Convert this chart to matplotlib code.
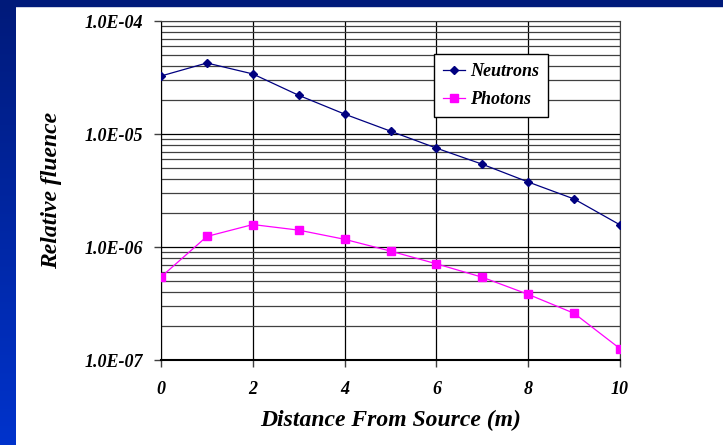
import numpy as np
import matplotlib.pyplot as plt
from matplotlib.ticker import FixedLocator, FuncFormatter, NullFormatter
from matplotlib.colors import LinearSegmentedColormap

# Данные: расстояние от источника и относительный флюенс
distance = [0, 1, 2, 3, 4, 5, 6, 7, 8, 9, 10]
neutrons = [3.26e-5, 4.25e-5, 3.4e-5, 2.2e-5, 1.5e-5, 1.06e-5,
            7.5e-6, 5.4e-6, 3.76e-6, 2.66e-6, 1.57e-6]
photons = [5.43e-7, 1.24e-6, 1.58e-6, 1.41e-6, 1.17e-6, 9.2e-7,
           7.1e-7, 5.4e-7, 3.81e-7, 2.59e-7, 1.26e-7]
x_ticks = [0, 2, 4, 6, 8, 10]
y_ticks = [1e-7, 1e-6, 1e-5, 1e-4]

plt.rcParams['font.family'] = ['Liberation Serif', 'DejaVu Serif']
font = dict(weight='bold', style='italic')

fig = plt.figure(figsize=(7.23, 4.45), dpi=100)
fig.patch.set_facecolor('white')

# Синяя рамка слайда (градиент слева и полоса сверху)
bg = fig.add_axes([0, 0, 1, 1], zorder=-10)
bg.set_xlim(0, 723)
bg.set_ylim(445, 0)
bg.axis('off')
grad = np.linspace(0, 1, 256).reshape(-1, 1)
cmap = LinearSegmentedColormap.from_list('slide', ['#001a7a', '#0033cc'])
bg.imshow(grad, cmap=cmap, extent=[0, 16, 445, 0], aspect='auto')
bg.add_patch(plt.Rectangle((0, 0), 723, 6, color='#001a7a'))

ax = fig.add_axes([161 / 723, 1 - 360 / 445, 459 / 723, 339 / 445])
ax.set_yscale('log')
ax.set_xlim(0, 10)
ax.set_ylim(1e-7, 1e-4)

ax.plot(distance, neutrons, color='#000080', marker='D', markersize=4.5,
        linewidth=0.9, label='Neutrons', zorder=3)
ax.plot(distance, photons, color='#ff00ff', marker='s', markersize=5.3,
        linewidth=0.9, label='Photons', zorder=3)

# Сетка
ax.xaxis.set_major_locator(FixedLocator(x_ticks))
ax.yaxis.set_major_locator(FixedLocator(y_ticks))
minor = [m * 10.0 ** e for e in (-7, -6, -5) for m in range(2, 10)]
ax.yaxis.set_minor_locator(FixedLocator(minor))
ax.yaxis.set_minor_formatter(NullFormatter())
ax.grid(which='major', axis='both', color='black', linewidth=0.9)
ax.grid(which='minor', axis='y', color='#404040', linewidth=0.9)
ax.tick_params(axis='y', which='minor', length=0)
ax.tick_params(axis='both', which='major', direction='out', length=5,
               width=1, color='#404040', labelsize=13)
ax.tick_params(axis='x', pad=10)
ax.tick_params(axis='y', pad=8)
ax.yaxis.set_major_formatter(FuncFormatter(
    lambda v, p: '1.0E-%02d' % round(-np.log10(v))))
for lab in ax.get_xticklabels() + ax.get_yticklabels():
    lab.set_fontweight('bold')
    lab.set_fontstyle('italic')

for s in ax.spines.values():
    s.set_color('#404040')
ax.spines['left'].set_color('black')
ax.spines['bottom'].set_color('black')
ax.spines['bottom'].set_linewidth(1.5)

ax.set_xlabel('Distance From Source (m)', fontsize=17, labelpad=9, **font)
ax.set_ylabel('Relative fluence', fontsize=17, labelpad=16, **font)

leg = ax.legend(loc='upper left', bbox_to_anchor=((434 - 161) / 459, (360 - 54) / 339),
                borderaxespad=0, frameon=True, fancybox=False, shadow=False,
                handlelength=1.2, borderpad=0.5, labelspacing=0.6, handletextpad=0.3,
                prop=dict(family='Liberation Serif', weight='bold', style='italic', size=13))
leg.get_frame().set_edgecolor('black')
leg.get_frame().set_linewidth(1.0)
leg.get_frame().set_alpha(1)

fig.savefig('out.png', dpi=100)
